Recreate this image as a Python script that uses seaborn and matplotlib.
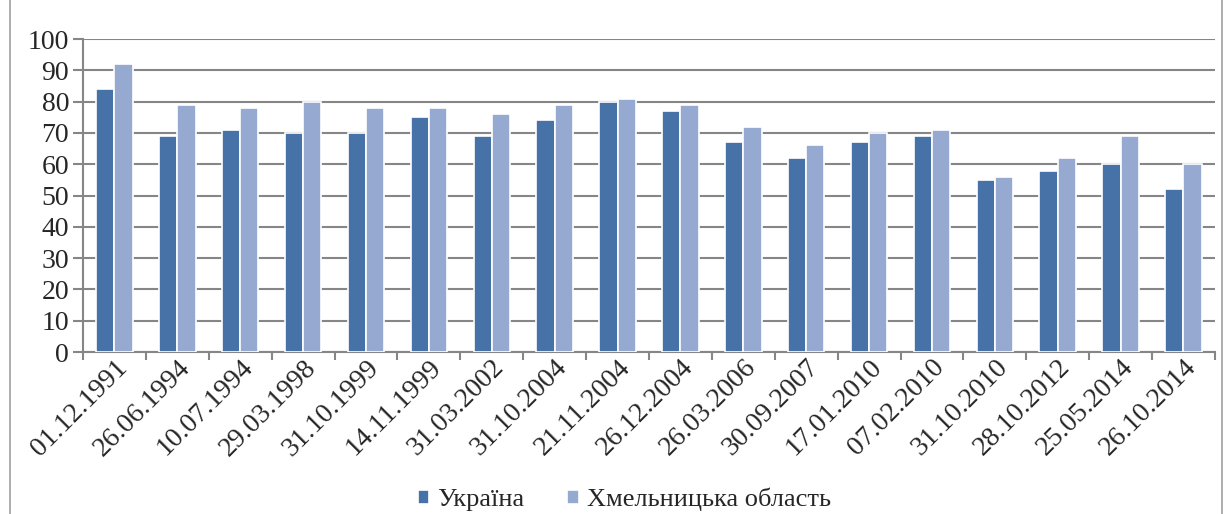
import pandas as pd
import matplotlib.pyplot as plt
import seaborn as sns
from matplotlib.patches import Rectangle

# дані
dates = ['01.12.1991', '26.06.1994', '10.07.1994', '29.03.1998', '31.10.1999', '14.11.1999',
         '31.03.2002', '31.10.2004', '21.11.2004', '26.12.2004', '26.03.2006', '30.09.2007',
         '17.01.2010', '07.02.2010', '31.10.2010', '28.10.2012', '25.05.2014', '26.10.2014']
ukraine = [84, 69, 71, 70, 70, 75, 69, 74, 80, 77, 67, 62, 67, 69, 55, 58, 60, 52]
khmelnytska = [92, 79, 78, 80, 78, 78, 76, 79, 81, 79, 72, 66, 70, 71, 56, 62, 69, 60]
series = ['Україна', 'Хмельницька область']
colors = ['#4672a8', '#95a9d1']

df = pd.DataFrame({'date': dates * 2,
                   'value': ukraine + khmelnytska,
                   'series': [series[0]] * len(dates) + [series[1]] * len(dates)})

sns.set_style('white')
plt.rcParams['font.family'] = ['Liberation Serif', 'DejaVu Serif']

fig = plt.figure(figsize=(12.24, 5.14), dpi=100)
ax = fig.add_axes([0.0678, 0.315, 0.9248, 0.609])

sns.barplot(data=df, x='date', y='value', hue='series', palette=colors, saturation=1,
            width=0.58, edgecolor='white', linewidth=1.2, ax=ax, zorder=3)

ax.set_ylim(0, 100)
ax.set_xlim(-0.5, len(dates) - 0.5)
ax.set_yticks(range(0, 101, 10))
ax.yaxis.grid(True, color='#868686', linewidth=1.5, zorder=0)
ax.set_axisbelow(True)
ax.set_xlabel('')
ax.set_ylabel('')

for s in ['top', 'right']:
    ax.spines[s].set_visible(False)
for s in ['left', 'bottom']:
    ax.spines[s].set_color('#868686')
    ax.spines[s].set_linewidth(1.5)

ax.tick_params(axis='y', labelsize=20, length=7, width=1.5, color='#868686', left=True, pad=3)
ax.tick_params(axis='x', which='major', length=0, labelsize=20, pad=2)
ax.set_xticks([i + 0.5 for i in range(-1, len(dates))], minor=True)
ax.tick_params(axis='x', which='minor', length=6, width=1.5, color='#868686', bottom=True)
plt.setp(ax.get_xticklabels(), rotation=45, ha='right', rotation_mode='anchor')

ax.legend(loc='lower center', bbox_to_anchor=(0.478, -0.585), ncol=2, frameon=False,
          fontsize=19, handlelength=0.45, handleheight=0.45, handletextpad=0.3, columnspacing=1.6)

# рамка
fig.patches.append(Rectangle((0.008, -0.01), 0.99, 1.05, transform=fig.transFigure,
                             fill=False, edgecolor='#a0a0a0', linewidth=1.2))

plt.savefig('out.png', dpi=100)
